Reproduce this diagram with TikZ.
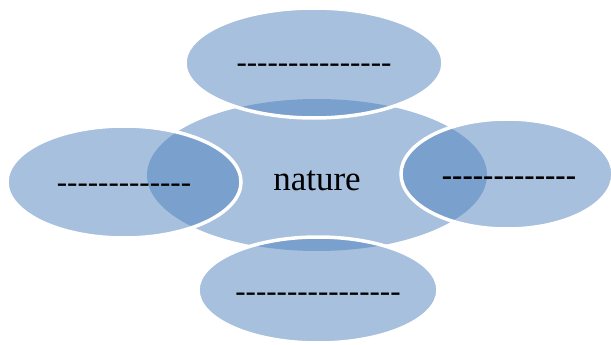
\documentclass[tikz,border=0pt]{standalone}
\usepackage{fontspec}
\setmainfont{Liberation Serif}[Ligatures=TeXOff]
\usetikzlibrary{shapes.geometric}
\definecolor{petal}{RGB}{79,129,189}
\tikzset{
  blob/.style={ellipse, inner sep=0pt, fill=petal, fill opacity=0.5, text opacity=1, draw=white, draw opacity=1, line width=3.5pt},
  hub/.style={ellipse, inner sep=0pt, fill=petal, fill opacity=0.5, text opacity=1},
  dashtxt/.style={font=\fontsize{31}{36}\selectfont},
}
\newcommand\drop[2]{\raisebox{-#1pt}[0pt][0pt]{#2}}
\begin{document}
\begin{tikzpicture}[x=1pt,y=-1pt]
\useasboundingbox (0,0) rectangle (611,345);
\node[hub, minimum width=340pt, minimum height=152pt, font=\fontsize{35}{40}\selectfont] (c) at (317,175) {\drop{15}{nature}};
\node[blob, minimum width=258pt, minimum height=110pt, dashtxt] (t) at (314,63) {\drop{10}{---------------}};
\node[blob, minimum width=234pt, minimum height=112pt, dashtxt] (l) at (124,182) {\drop{10}{-------------}};
\node[blob, minimum width=212pt, minimum height=110pt, dashtxt] (r) at (507,174) {\hspace*{4pt}\drop{11}{\bfseries -------------}};
\node[blob, minimum width=240pt, minimum height=106pt, dashtxt] (b) at (318,290) {\drop{11}{----------------}};
\end{tikzpicture}
\end{document}
